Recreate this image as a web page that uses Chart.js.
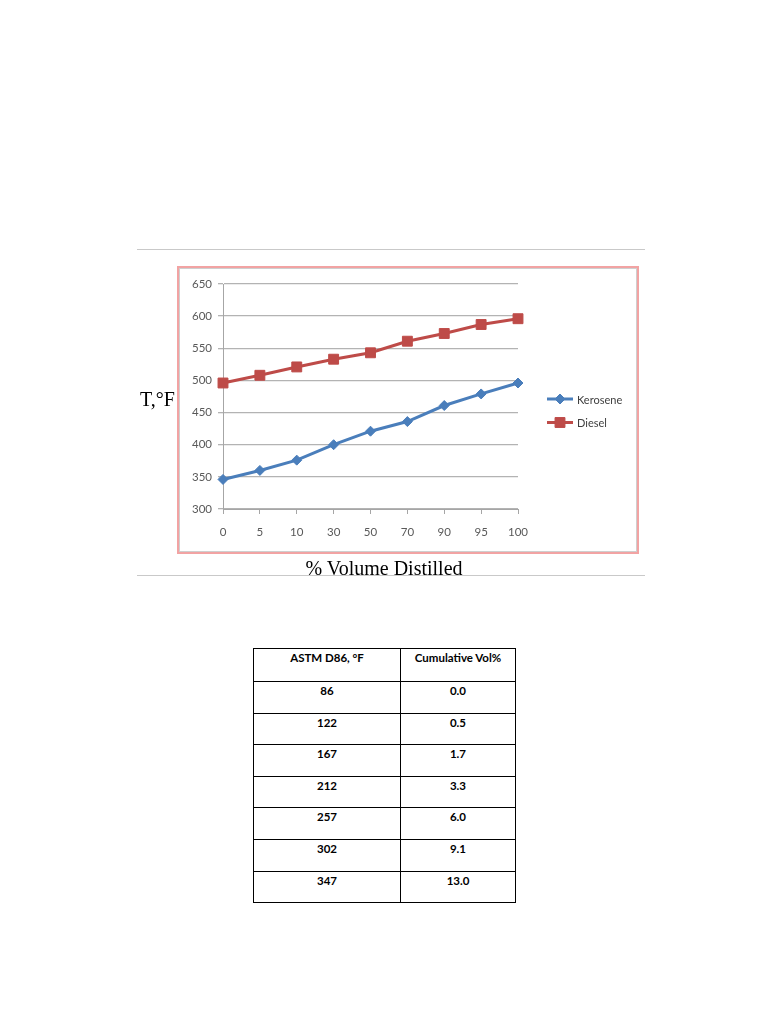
<!DOCTYPE html>
<html>
<head>
<meta charset="utf-8">
<script src="https://cdn.jsdelivr.net/npm/chart.js@4/dist/chart.umd.min.js"></script>
<style>
  html, body { margin: 0; padding: 0; background: #fff; }
  body { width: 768px; height: 1024px; position: relative; overflow: hidden; }
  .rule { position: absolute; left: 137px; width: 508px; height: 0; border-top: 1px solid #c9c9c9; }
  #frame { position: absolute; left: 177px; top: 266px; width: 458px; height: 284px;
           border: 2px solid #f2a3a3; box-shadow: inset 0 0 0 1px #cfcfcf; }
  #wrap { position: absolute; left: 137px; top: 249px; width: 508px; height: 327px; }
  .lbl { position: absolute; font-family: "Liberation Serif", "DejaVu Serif", serif; font-size: 20px; color: #000; white-space: nowrap; line-height: 20px; }
  #ylab { left: 140px; top: 389px; }
  #xlab { left: 384px; top: 558px; transform: translateX(-50%); }
  table { position: absolute; left: 253px; top: 648px; border-collapse: collapse; width: 263px;
          font-family: Lato, "Open Sans", sans-serif; font-weight: bold; font-size: 11.5px; color: #000; }
  td { border: 1px solid #000; text-align: center; vertical-align: top; padding: 3px 0 0 0; line-height: 12px; height: 27.6px; }
  tr.head td { height: 29px; }
</style>
</head>
<body>
<div class="rule" style="top:249px"></div>
<div class="rule" style="top:575px"></div>
<div id="frame"></div>
<div id="wrap"><canvas id="distil" width="508" height="327"></canvas></div>
<div class="lbl" id="ylab">T,°F</div>
<div class="lbl" id="xlab">% Volume Distilled</div>
<table id="astm"></table>

<script>
//--------------------------------------------- data
const volumeLabels = ['0', '5', '10', '30', '50', '70', '90', '95', '100'];
const keroseneTemps = [346, 360, 376, 400, 421, 436, 461, 479, 496];
const dieselTemps = [496, 508, 521, 533, 543, 561, 573, 587, 596];

const tableHeaders = ['ASTM D86, °F', 'Cumulative Vol%'];
const astmTemps = ['86', '122', '167', '212', '257', '302', '347'];
const cumVolume = ['0.0', '0.5', '1.7', '3.3', '6.0', '9.1', '13.0'];

//--------------------------------------------- table
const table = document.getElementById('astm');
let html = '<tr class="head"><td style="width:146px">' + tableHeaders[0] + '</td><td>' + tableHeaders[1] + '</td></tr>';
for (let i = 0; i < astmTemps.length; i++) {
    html += '<tr><td>' + astmTemps[i] + '</td><td>' + cumVolume[i] + '</td></tr>';
}
table.innerHTML = html;

//--------------------------------------------- legend drawn like excel (line + marker)
const excelLegend = {
    id: 'excelLegend',
    afterDraw(chart) {
        const ctx = chart.ctx;
        ctx.save();
        chart.data.datasets.forEach(function (ds, i) {
            const y = 150 + i * 23.5;
            ctx.strokeStyle = ds.borderColor;
            ctx.lineWidth = ds.borderWidth;
            ctx.beginPath();
            ctx.moveTo(410, y);
            ctx.lineTo(436, y);
            ctx.stroke();
            ctx.fillStyle = ds.borderColor;
            ctx.lineWidth = 1;
            Chart.helpers.drawPoint(ctx, {
                pointStyle: ds.pointStyle,
                radius: ds.pointRadius,
                rotation: 0,
                borderWidth: 1
            }, 423, y);
            ctx.fillStyle = '#404040';
            ctx.font = '11px Lato, "Open Sans", sans-serif';
            ctx.textBaseline = 'middle';
            ctx.textAlign = 'left';
            ctx.fillText(ds.label, 440, y + 1);
        });
        ctx.restore();
    }
};

//--------------------------------------------- chart
const dataDistil = {
    labels: volumeLabels,
    datasets: [{
        label: 'Kerosene',
        data: keroseneTemps,
        borderColor: '#4a7ebb',
        backgroundColor: '#4a7ebb',
        borderWidth: 3,
        pointStyle: 'rectRot',
        pointRadius: 5,
        pointBorderWidth: 1
    }, {
        label: 'Diesel',
        data: dieselTemps,
        borderColor: '#be4b48',
        backgroundColor: '#be4b48',
        borderWidth: 3,
        pointStyle: 'rect',
        pointRadius: 7,
        pointBorderWidth: 1
    }]
};

const configDistil = {
    type: 'line',
    data: dataDistil,
    plugins: [excelLegend],
    options: {
        responsive: false,
        animation: false,
        devicePixelRatio: 1,
        layout: { padding: { left: 40, right: 127, top: 35, bottom: 30 } },
        plugins: {
            legend: { display: false },
            tooltip: { enabled: false }
        },
        scales: {
            x: {
                afterFit(scale) { scale.height = 37; },
                grid: { display: true, drawOnChartArea: false, tickLength: 5, color: '#a6a6a6' },
                border: { color: '#a6a6a6', width: 1 },
                ticks: { color: '#595959', padding: 11, font: { family: 'Lato', size: 11.5 }, maxRotation: 0 }
            },
            y: {
                min: 300,
                max: 650,
                afterFit(scale) { scale.width = 46; },
                grid: { color: '#b3b3b3', lineWidth: 1.3, tickLength: 5 },
                border: { color: '#a6a6a6', width: 1 },
                ticks: { stepSize: 50, color: '#595959', padding: 6, font: { family: 'Lato', size: 11.5 } }
            }
        }
    }
};

var chartDistil = new Chart(
    document.getElementById('distil'),
    configDistil
);
</script>
</body>
</html>
